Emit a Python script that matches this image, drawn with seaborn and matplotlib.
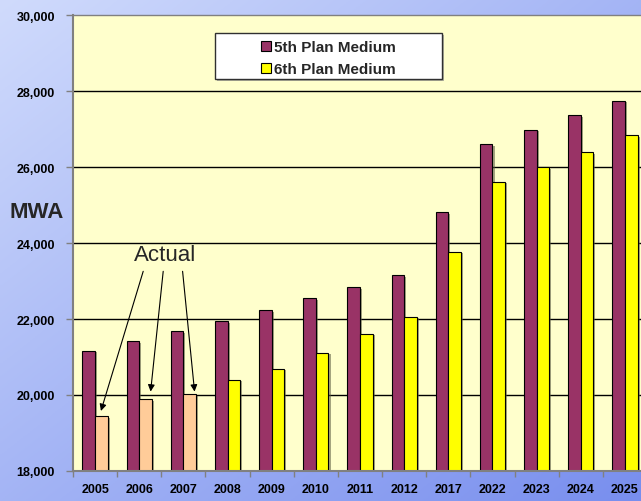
import numpy as np
import pandas as pd
import matplotlib
matplotlib.use("Agg")
import matplotlib.pyplot as plt
import matplotlib.patheffects as pe
from matplotlib.patches import Rectangle, Patch
import seaborn as sns

# ---- data ----
years = ["2005", "2006", "2007", "2008", "2009", "2010", "2011",
         "2012", "2017", "2022", "2023", "2024", "2025"]
plan5 = [21170, 21410, 21680, 21940, 22230, 22540, 22830,
         23150, 24810, 26600, 26980, 27360, 27750]
plan6 = [19440, 19890, 20030, 20400, 20690, 21110, 21610,
         22060, 23770, 25610, 26000, 26390, 26830]
actual_years = ["2005", "2006", "2007"]
series_names = ["5th Plan Medium", "6th Plan Medium"]
y_ticks = [18000, 20000, 22000, 24000, 26000, 28000, 30000]
y_tick_labels = ["18,000", "20,000", "22,000", "24,000", "26,000", "28,000", "30,000"]

maroon = "#993366"
yellow = "#FFFF00"
peach = "#FFCC99"

sns.set_theme(style="white")
plt.rcParams["font.family"] = ["Liberation Sans", "DejaVu Sans"]

df = pd.DataFrame({
    "year": years * 2,
    "series": [series_names[0]] * len(years) + [series_names[1]] * len(years),
    "value": plan5 + plan6,
})

W, H = 641, 502
fig = plt.figure(figsize=(W / 100, H / 100), dpi=100)

# diagonal blue gradient behind everything
bg = fig.add_axes([0, 0, 1, 1], zorder=0)
gx, gy = np.meshgrid(np.linspace(0, 1, 256), np.linspace(0, 1, 200))
t = np.clip(0.5 * gx + 0.5 * gy, 0, 1)[..., None]
c0 = np.array([208, 219, 252]) / 255
c1 = np.array([120, 142, 238]) / 255
bg.imshow(c0 * (1 - t) + c1 * t, aspect="auto", extent=[0, 1, 0, 1], origin="upper")
bg.axis("off")

ax = fig.add_axes([73 / W, 30 / H, 574 / W, 456 / H], zorder=1)
ax.set_facecolor("#FFFFCC")

sns.barplot(data=df, x="year", y="value", hue="series", order=years,
            hue_order=series_names, palette=[maroon, yellow], width=0.57,
            gap=0, edgecolor="black", linewidth=0.8, saturation=1,
            legend=False, ax=ax, zorder=3)

shadow = [pe.SimplePatchShadow(offset=(1.5, -1.2), shadow_rgbFace=(0.35, 0.35, 0.25), alpha=0.55),
          pe.Normal()]
for cont in ax.containers:
    for p in cont:
        p.set_path_effects(shadow)
for p, yr in zip(ax.containers[1], years):
    if yr in actual_years:
        p.set_facecolor(peach)

ax.set_xlim(-0.5, len(years) - 0.5)
ax.set_ylim(y_ticks[0], y_ticks[-1])
ax.set_xlabel("")
ax.set_ylabel("")

ax.set_yticks(y_ticks, y_tick_labels)
ax.set_xticks(range(len(years)), years)
ax.set_xticks(np.arange(-0.5, len(years), 1), minor=True)

ax.tick_params(axis="y", which="major", left=True, length=5, width=1,
               color="#808080", direction="out", pad=8, labelsize=9)
ax.tick_params(axis="x", which="major", bottom=True, length=0, pad=9, labelsize=9)
ax.tick_params(axis="x", which="minor", bottom=True, length=4, width=1,
               color="#808080", direction="out")
for lbl in ax.get_xticklabels() + ax.get_yticklabels():
    lbl.set_fontweight("bold")
    lbl.set_color("black")

ax.spines["right"].set_visible(False)
ax.spines["top"].set_color("#808080")
ax.spines["top"].set_linewidth(1)
for side in ["left", "bottom"]:
    ax.spines[side].set_color("#808080")
    ax.spines[side].set_linewidth(1.5)
    ax.spines[side].set_zorder(4)

ax.set_axisbelow(True)
ax.yaxis.grid(True, color="black", linewidth=1)
ax.xaxis.grid(False)
ax.get_ygridlines()[-1].set_visible(False)

fig.text(37 / W, 1 - 213 / H, "MWA", fontsize=16, fontweight="bold",
         ha="center", va="center")

# "Actual" callout with arrows to the measured years
ax.text(1.58, 23710, "Actual", fontsize=16, ha="center", va="center", zorder=6)
arrows = [((1.09, 23255), (0.133, 19580)),
          ((1.543, 23255), (1.258, 20090)),
          ((1.982, 23255), (2.253, 20090))]
for tail, tip in arrows:
    ax.annotate("", xy=tip, xytext=tail, zorder=6,
                arrowprops=dict(arrowstyle="-|>", color="black", lw=0.8,
                                mutation_scale=10, shrinkA=0, shrinkB=0))

# legend inside a white box
box_x, box_y, box_w, box_h = 0.247, 0.860, 0.396, 0.1005
ax.add_patch(Rectangle((box_x, box_y), box_w, box_h, transform=ax.transAxes,
                       facecolor="white", edgecolor="#303030", linewidth=1,
                       zorder=5,
                       path_effects=[pe.SimplePatchShadow(offset=(1.5, -1.5),
                                                          shadow_rgbFace="gray", alpha=0.6),
                                     pe.Normal()]))
handles = [Patch(facecolor=maroon, edgecolor="black", linewidth=0.8),
           Patch(facecolor=yellow, edgecolor="black", linewidth=0.8)]
leg = ax.legend(handles=handles, labels=series_names, loc="center",
                bbox_to_anchor=(box_x + box_w / 2, box_y + box_h / 2 - 0.005),
                frameon=False, prop={"weight": "bold", "size": 11},
                handlelength=0.65, handleheight=0.65, handletextpad=0.25,
                labelspacing=0.52, borderaxespad=0, borderpad=0)
leg.set_zorder(7)

fig.savefig("out.png", dpi=100)
